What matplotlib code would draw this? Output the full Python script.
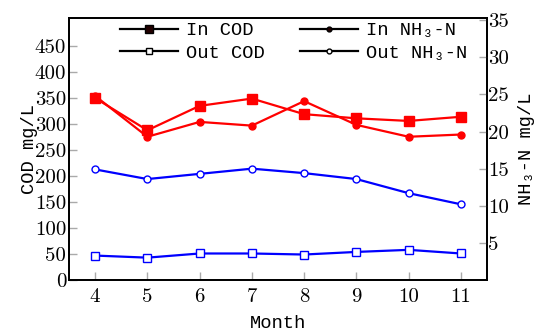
import matplotlib
matplotlib.use("Agg")
import matplotlib.pyplot as plt
from matplotlib.lines import Line2D

months = [4, 5, 6, 7, 8, 9, 10, 11]
in_cod = [350, 288, 335, 349, 319, 311, 306, 314]
out_cod = [47, 43, 51, 51, 49, 54, 58, 51]
in_nh3 = [24.8, 19.3, 21.3, 20.8, 24.1, 20.9, 19.3, 19.6]
out_nh3 = [14.9, 13.6, 14.3, 15.0, 14.4, 13.6, 11.7, 10.2]

label_font = ["Liberation Mono", "DejaVu Sans Mono"]
tick_font = "cmr10"

fig = plt.figure(figsize=(5.39, 3.32), dpi=100)
ax1 = fig.add_axes([69 / 539, 1 - 280 / 332, (487 - 69) / 539, (280 - 18) / 332])
ax2 = ax1.twinx()

ax1.plot(months, in_cod, color="#ff0000", lw=1.6, marker="s", ms=6.5, mfc="#ff0000", mec="#ff0000")
ax1.plot(months, out_cod, color="#0000ff", lw=1.6, marker="s", ms=6, mfc="white", mec="#0000ff", mew=1.0)
ax2.plot(months, in_nh3, color="#ff0000", lw=1.6, marker="o", ms=5, mfc="#ff0000", mec="#ff0000")
ax2.plot(months, out_nh3, color="#0000ff", lw=1.6, marker="o", ms=5, mfc="white", mec="#0000ff", mew=1.0)

ax1.set_xlim(3.5, 11.5)
ax1.set_ylim(0, 504)
ax2.set_ylim(0, 35.3)
ax1.set_xticks(months)
ax1.set_yticks(range(0, 451, 50))
ax2.set_yticks(range(5, 36, 5))

for ax in (ax1, ax2):
    ax.tick_params(direction="in", length=6, color="#aaaaaa", width=1.0, labelsize=15)
    for lab in ax.get_xticklabels() + ax.get_yticklabels():
        lab.set_fontfamily(tick_font)
    for sp in ax.spines.values():
        sp.set_linewidth(1.3)
ax1.tick_params(axis="x", pad=6)
ax1.tick_params(axis="y", pad=2)
ax2.tick_params(axis="y", pad=1)

ax1.set_xlabel("Month", fontsize=13.5, family=label_font, labelpad=6)
ax1.set_ylabel("COD mg/L", fontsize=13.5, family=label_font, labelpad=-2)
ax2.set_ylabel("NH₃-N mg/L", fontsize=13.5, family=label_font, labelpad=6)

handles = [
    Line2D([], [], color="black", lw=1.6, marker="s", ms=5.5, mfc="#220000", mec="black"),
    Line2D([], [], color="black", lw=1.6, marker="s", ms=5, mfc="white", mec="black"),
    Line2D([], [], color="black", lw=1.6, marker="o", ms=3.5, mfc="#220000", mec="black"),
    Line2D([], [], color="black", lw=1.6, marker="o", ms=3.5, mfc="white", mec="black"),
]
labels = ["In COD", "Out COD", "In NH₃-N", "Out NH₃-N"]
fig.legend(handles, labels, ncol=2, frameon=False, loc="upper left",
           bbox_to_anchor=(120 / 539, 1 - 22 / 332), prop={"family": label_font, "size": 13.5},
           handlelength=3.1, handletextpad=0.4, columnspacing=1.9, labelspacing=0.3,
           borderpad=0, borderaxespad=0)

fig.savefig("out.png", dpi=100)
